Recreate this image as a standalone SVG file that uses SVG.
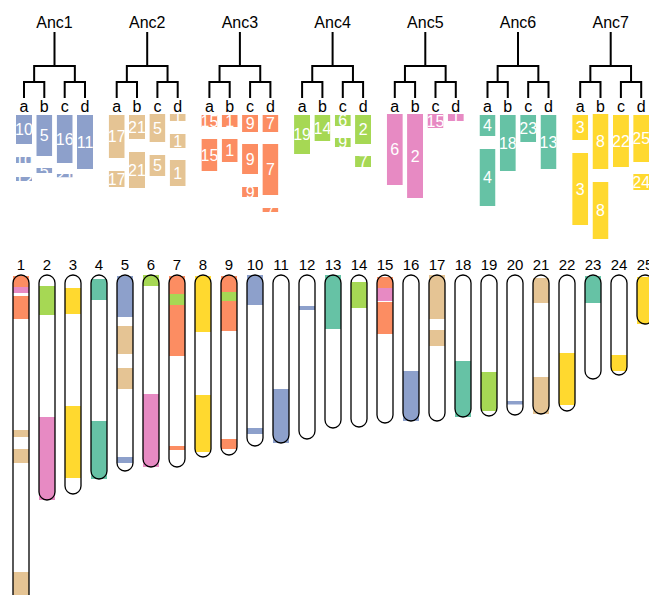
<svg xmlns="http://www.w3.org/2000/svg" width="649" height="595" viewBox="0 0 649 595">
<style>
text{font-family:"Liberation Sans",Arial,Helvetica,sans-serif;font-size:16px;fill:#000;text-anchor:middle}
.bt{fill:#fff;dominant-baseline:central}
.cn{font-size:15px}
.tree{fill:none;stroke:#000;stroke-width:2;stroke-linecap:square}
.chbg{fill:#fff}
.chol{fill:none;stroke:#000;stroke-width:1.3}
.bl{fill:#8da0cb}.tn{fill:#e5c494}.or{fill:#fc8d62}.gr{fill:#a6d854}.pk{fill:#e78ac3}.tl{fill:#66c2a5}.yl{fill:#ffd92f}
</style>
<defs>
<path id="tp" d="M54.5,33V66M34.15,66H74.85M34.15,66V82M74.85,66V82M24,82H44.3M64.7,82H85M24,82V97M44.3,82V97M64.7,82V97M85,82V97"/>
</defs>
<rect width="649" height="595" fill="#fff"/>
<g id="connectors" class="tree">
<use href="#tp"/>
<use href="#tp" transform="translate(92.7,0)"/>
<use href="#tp" transform="translate(185.4,0)"/>
<use href="#tp" transform="translate(278.1,0)"/>
<use href="#tp" transform="translate(370.8,0)"/>
<use href="#tp" transform="translate(463.5,0)"/>
<use href="#tp" transform="translate(556.2,0)"/>
</g>
<g id="Anc1">
<text x="54.5" y="28">Anc1</text>
<text x="24" y="112">a</text><text x="44.3" y="112">b</text><text x="64.7" y="112">c</text><text x="85" y="112">d</text>
<svg x="16" y="115" width="16" height="29"><rect class="bl" width="100%" height="100%"/><text class="bt" x="50%" y="50%">10</text></svg>
<svg x="16" y="157" width="16" height="6"><rect class="bl" width="100%" height="100%"/><text class="bt" x="50%" y="50%">10</text></svg>
<svg x="16" y="177" width="16" height="4"><rect class="bl" width="100%" height="100%"/><text class="bt" x="50%" y="50%">12</text></svg>
<svg x="36.3" y="115" width="16" height="41"><rect class="bl" width="100%" height="100%"/><text class="bt" x="50%" y="50%">5</text></svg>
<svg x="36.3" y="168" width="16" height="5"><rect class="bl" width="100%" height="100%"/><text class="bt" x="50%" y="50%">5</text></svg>
<svg x="56.7" y="115" width="16" height="48"><rect class="bl" width="100%" height="100%"/><text class="bt" x="50%" y="50%">16</text></svg>
<svg x="56.7" y="174" width="16" height="3.5"><rect class="bl" width="100%" height="100%"/><text class="bt" x="50%" y="50%">21</text></svg>
<svg x="77" y="115" width="16" height="54"><rect class="bl" width="100%" height="100%"/><text class="bt" x="50%" y="50%">11</text></svg>
</g>
<g id="Anc2" transform="translate(92.7,0)">
<text x="54.5" y="28">Anc2</text>
<text x="24" y="112">a</text><text x="44.3" y="112">b</text><text x="64.7" y="112">c</text><text x="85" y="112">d</text>
<svg x="16" y="115" width="16" height="43"><rect class="tn" width="100%" height="100%"/><text class="bt" x="50%" y="50%">17</text></svg>
<svg x="16" y="171" width="16" height="16"><rect class="tn" width="100%" height="100%"/><text class="bt" x="50%" y="50%">17</text></svg>
<svg x="36.3" y="115" width="16" height="24"><rect class="tn" width="100%" height="100%"/><text class="bt" x="50%" y="50%">21</text></svg>
<svg x="36.3" y="152" width="16" height="36"><rect class="tn" width="100%" height="100%"/><text class="bt" x="50%" y="50%">21</text></svg>
<svg x="56.7" y="114" width="16" height="28"><rect class="tn" width="100%" height="100%"/><text class="bt" x="50%" y="50%">5</text></svg>
<svg x="56.7" y="155" width="16" height="21"><rect class="tn" width="100%" height="100%"/><text class="bt" x="50%" y="50%">5</text></svg>
<svg x="77" y="114" width="16" height="7"><rect class="tn" width="100%" height="100%"/><text class="bt" x="50%" y="50%">1</text></svg>
<svg x="77" y="134" width="16" height="14"><rect class="tn" width="100%" height="100%"/><text class="bt" x="50%" y="50%">1</text></svg>
<svg x="77" y="160" width="16" height="26"><rect class="tn" width="100%" height="100%"/><text class="bt" x="50%" y="50%">1</text></svg>
</g>
<g id="Anc3" transform="translate(185.4,0)">
<text x="54.5" y="28">Anc3</text>
<text x="24" y="112">a</text><text x="44.3" y="112">b</text><text x="64.7" y="112">c</text><text x="85" y="112">d</text>
<svg x="16" y="115" width="16" height="12"><rect class="or" width="100%" height="100%"/><text class="bt" x="50%" y="50%">15</text></svg>
<svg x="16" y="139" width="16" height="32"><rect class="or" width="100%" height="100%"/><text class="bt" x="50%" y="50%">15</text></svg>
<svg x="36.3" y="115" width="16" height="12"><rect class="or" width="100%" height="100%"/><text class="bt" x="50%" y="50%">1</text></svg>
<svg x="36.3" y="139" width="16" height="23"><rect class="or" width="100%" height="100%"/><text class="bt" x="50%" y="50%">1</text></svg>
<svg x="56.7" y="115" width="16" height="17"><rect class="or" width="100%" height="100%"/><text class="bt" x="50%" y="50%">9</text></svg>
<svg x="56.7" y="144" width="16" height="30"><rect class="or" width="100%" height="100%"/><text class="bt" x="50%" y="50%">9</text></svg>
<svg x="56.7" y="187" width="16" height="10"><rect class="or" width="100%" height="100%"/><text class="bt" x="50%" y="50%">9</text></svg>
<svg x="77" y="115" width="16" height="17"><rect class="or" width="100%" height="100%"/><text class="bt" x="50%" y="50%">7</text></svg>
<svg x="77" y="144" width="16" height="51"><rect class="or" width="100%" height="100%"/><text class="bt" x="50%" y="50%">7</text></svg>
<svg x="77" y="208" width="16" height="4"><rect class="or" width="100%" height="100%"/><text class="bt" x="50%" y="50%">7</text></svg>
</g>
<g id="Anc4" transform="translate(278.1,0)">
<text x="54.5" y="28">Anc4</text>
<text x="24" y="112">a</text><text x="44.3" y="112">b</text><text x="64.7" y="112">c</text><text x="85" y="112">d</text>
<svg x="16" y="115" width="16" height="39"><rect class="gr" width="100%" height="100%"/><text class="bt" x="50%" y="50%">19</text></svg>
<svg x="36.3" y="115" width="16" height="26"><rect class="gr" width="100%" height="100%"/><text class="bt" x="50%" y="50%">14</text></svg>
<svg x="56.7" y="115" width="16" height="11"><rect class="gr" width="100%" height="100%"/><text class="bt" x="50%" y="50%">6</text></svg>
<svg x="56.7" y="138" width="16" height="9"><rect class="gr" width="100%" height="100%"/><text class="bt" x="50%" y="50%">9</text></svg>
<svg x="77" y="115" width="16" height="29"><rect class="gr" width="100%" height="100%"/><text class="bt" x="50%" y="50%">2</text></svg>
<svg x="77" y="156" width="16" height="11"><rect class="gr" width="100%" height="100%"/><text class="bt" x="50%" y="50%">7</text></svg>
</g>
<g id="Anc5" transform="translate(370.8,0)">
<text x="54.5" y="28">Anc5</text>
<text x="24" y="112">a</text><text x="44.3" y="112">b</text><text x="64.7" y="112">c</text><text x="85" y="112">d</text>
<svg x="16" y="114" width="16" height="71"><rect class="pk" width="100%" height="100%"/><text class="bt" x="50%" y="50%">6</text></svg>
<svg x="36.3" y="114" width="16" height="84"><rect class="pk" width="100%" height="100%"/><text class="bt" x="50%" y="50%">2</text></svg>
<svg x="56.7" y="114" width="16" height="14"><rect class="pk" width="100%" height="100%"/><text class="bt" x="50%" y="50%">15</text></svg>
<svg x="77" y="114" width="16" height="7"><rect class="pk" width="100%" height="100%"/><text class="bt" x="50%" y="50%">1</text></svg>
</g>
<g id="Anc6" transform="translate(463.5,0)">
<text x="54.5" y="28">Anc6</text>
<text x="24" y="112">a</text><text x="44.3" y="112">b</text><text x="64.7" y="112">c</text><text x="85" y="112">d</text>
<svg x="16" y="115" width="16" height="21"><rect class="tl" width="100%" height="100%"/><text class="bt" x="50%" y="50%">4</text></svg>
<svg x="16" y="149" width="16" height="57"><rect class="tl" width="100%" height="100%"/><text class="bt" x="50%" y="50%">4</text></svg>
<svg x="36.3" y="115" width="16" height="56"><rect class="tl" width="100%" height="100%"/><text class="bt" x="50%" y="50%">18</text></svg>
<svg x="56.7" y="115" width="16" height="27"><rect class="tl" width="100%" height="100%"/><text class="bt" x="50%" y="50%">23</text></svg>
<svg x="77" y="115" width="16" height="54"><rect class="tl" width="100%" height="100%"/><text class="bt" x="50%" y="50%">13</text></svg>
</g>
<g id="Anc7" transform="translate(556.2,0)">
<text x="54.5" y="28">Anc7</text>
<text x="24" y="112">a</text><text x="44.3" y="112">b</text><text x="64.7" y="112">c</text><text x="85" y="112">d</text>
<svg x="16" y="115" width="16" height="25"><rect class="yl" width="100%" height="100%"/><text class="bt" x="50%" y="50%">3</text></svg>
<svg x="16" y="153" width="16" height="72"><rect class="yl" width="100%" height="100%"/><text class="bt" x="50%" y="50%">3</text></svg>
<svg x="36.3" y="114" width="16" height="55"><rect class="yl" width="100%" height="100%"/><text class="bt" x="50%" y="50%">8</text></svg>
<svg x="36.3" y="182" width="16" height="57"><rect class="yl" width="100%" height="100%"/><text class="bt" x="50%" y="50%">8</text></svg>
<svg x="56.7" y="115" width="16" height="52"><rect class="yl" width="100%" height="100%"/><text class="bt" x="50%" y="50%">22</text></svg>
<svg x="77" y="115" width="16" height="47"><rect class="yl" width="100%" height="100%"/><text class="bt" x="50%" y="50%">25</text></svg>
<svg x="77" y="174" width="16" height="16"><rect class="yl" width="100%" height="100%"/><text class="bt" x="50%" y="50%">24</text></svg>
</g>
<g id="chr1" transform="translate(21,0)"><text class="cn" x="0" y="270">1</text><rect class="chbg" x="-8" y="275" width="16" height="335" rx="8"/>
<rect class="or" x="-8" y="276" width="16" height="11"/><rect class="pk" x="-8" y="287" width="16" height="6"/><rect class="or" x="-8" y="296" width="16" height="23"/><rect class="tn" x="-8" y="430" width="16" height="7"/><rect class="tn" x="-8" y="449" width="16" height="14"/><rect class="tn" x="-8" y="572" width="16" height="38"/>
<rect class="chol" x="-8" y="275" width="16" height="335" rx="8"/></g>
<g id="chr2" transform="translate(47,0)"><text class="cn" x="0" y="270">2</text><rect class="chbg" x="-8" y="275" width="16" height="225" rx="8"/>
<rect class="gr" x="-8" y="286" width="16" height="29"/><rect class="pk" x="-8" y="417" width="16" height="83"/>
<rect class="chol" x="-8" y="275" width="16" height="225" rx="8"/></g>
<g id="chr3" transform="translate(73,0)"><text class="cn" x="0" y="270">3</text><rect class="chbg" x="-8" y="275" width="16" height="219" rx="8"/>
<rect class="yl" x="-8" y="288" width="16" height="26"/><rect class="yl" x="-8" y="406" width="16" height="72"/>
<rect class="chol" x="-8" y="275" width="16" height="219" rx="8"/></g>
<g id="chr4" transform="translate(99,0)"><text class="cn" x="0" y="270">4</text><rect class="chbg" x="-8" y="275" width="16" height="204" rx="8"/>
<rect class="tl" x="-8" y="279" width="16" height="21"/><rect class="tl" x="-8" y="421" width="16" height="58"/>
<rect class="chol" x="-8" y="275" width="16" height="204" rx="8"/></g>
<g id="chr5" transform="translate(125,0)"><text class="cn" x="0" y="270">5</text><rect class="chbg" x="-8" y="275" width="16" height="196" rx="8"/>
<rect class="bl" x="-8" y="276" width="16" height="41"/><rect class="tn" x="-8" y="326" width="16" height="28"/><rect class="tn" x="-8" y="368" width="16" height="21"/><rect class="bl" x="-8" y="457" width="16" height="6"/>
<rect class="chol" x="-8" y="275" width="16" height="196" rx="8"/></g>
<g id="chr6" transform="translate(151,0)"><text class="cn" x="0" y="270">6</text><rect class="chbg" x="-8" y="275" width="16" height="192" rx="8"/>
<rect class="gr" x="-8" y="275" width="16" height="11"/><rect class="pk" x="-8" y="394" width="16" height="73"/>
<rect class="chol" x="-8" y="275" width="16" height="192" rx="8"/></g>
<g id="chr7" transform="translate(177,0)"><text class="cn" x="0" y="270">7</text><rect class="chbg" x="-8" y="275" width="16" height="192" rx="8"/>
<rect class="or" x="-8" y="276" width="16" height="18"/><rect class="gr" x="-8" y="294" width="16" height="11"/><rect class="or" x="-8" y="305" width="16" height="51"/><rect class="or" x="-8" y="446" width="16" height="4"/>
<rect class="chol" x="-8" y="275" width="16" height="192" rx="8"/></g>
<g id="chr8" transform="translate(203,0)"><text class="cn" x="0" y="270">8</text><rect class="chbg" x="-8" y="275" width="16" height="182" rx="8"/>
<rect class="yl" x="-8" y="276" width="16" height="56"/><rect class="yl" x="-8" y="395" width="16" height="57"/>
<rect class="chol" x="-8" y="275" width="16" height="182" rx="8"/></g>
<g id="chr9" transform="translate(229,0)"><text class="cn" x="0" y="270">9</text><rect class="chbg" x="-8" y="275" width="16" height="180" rx="8"/>
<rect class="or" x="-8" y="276" width="16" height="16"/><rect class="gr" x="-8" y="292" width="16" height="9"/><rect class="or" x="-8" y="301" width="16" height="30"/><rect class="or" x="-8" y="439" width="16" height="10"/>
<rect class="chol" x="-8" y="275" width="16" height="180" rx="8"/></g>
<g id="chr10" transform="translate(255,0)"><text class="cn" x="0" y="270">10</text><rect class="chbg" x="-8" y="275" width="16" height="171" rx="8"/>
<rect class="bl" x="-8" y="275" width="16" height="30"/><rect class="bl" x="-8" y="428" width="16" height="6"/>
<rect class="chol" x="-8" y="275" width="16" height="171" rx="8"/></g>
<g id="chr11" transform="translate(281,0)"><text class="cn" x="0" y="270">11</text><rect class="chbg" x="-8" y="275" width="16" height="168" rx="8"/>
<rect class="bl" x="-8" y="389" width="16" height="54"/>
<rect class="chol" x="-8" y="275" width="16" height="168" rx="8"/></g>
<g id="chr12" transform="translate(307,0)"><text class="cn" x="0" y="270">12</text><rect class="chbg" x="-8" y="275" width="16" height="164" rx="8"/>
<rect class="bl" x="-8" y="306" width="16" height="4"/>
<rect class="chol" x="-8" y="275" width="16" height="164" rx="8"/></g>
<g id="chr13" transform="translate(333,0)"><text class="cn" x="0" y="270">13</text><rect class="chbg" x="-8" y="275" width="16" height="153" rx="8"/>
<rect class="tl" x="-8" y="275" width="16" height="54"/>
<rect class="chol" x="-8" y="275" width="16" height="153" rx="8"/></g>
<g id="chr14" transform="translate(359,0)"><text class="cn" x="0" y="270">14</text><rect class="chbg" x="-8" y="275" width="16" height="152" rx="8"/>
<rect class="gr" x="-8" y="282" width="16" height="26"/>
<rect class="chol" x="-8" y="275" width="16" height="152" rx="8"/></g>
<g id="chr15" transform="translate(385,0)"><text class="cn" x="0" y="270">15</text><rect class="chbg" x="-8" y="275" width="16" height="148" rx="8"/>
<rect class="or" x="-8" y="277" width="16" height="11"/><rect class="pk" x="-8" y="288" width="16" height="13"/><rect class="or" x="-8" y="302" width="16" height="32"/>
<rect class="chol" x="-8" y="275" width="16" height="148" rx="8"/></g>
<g id="chr16" transform="translate(411,0)"><text class="cn" x="0" y="270">16</text><rect class="chbg" x="-8" y="275" width="16" height="146" rx="8"/>
<rect class="bl" x="-8" y="371" width="16" height="50"/>
<rect class="chol" x="-8" y="275" width="16" height="146" rx="8"/></g>
<g id="chr17" transform="translate(437,0)"><text class="cn" x="0" y="270">17</text><rect class="chbg" x="-8" y="275" width="16" height="146" rx="8"/>
<rect class="tn" x="-8" y="275" width="16" height="44"/><rect class="tn" x="-8" y="330" width="16" height="16"/>
<rect class="chol" x="-8" y="275" width="16" height="146" rx="8"/></g>
<g id="chr18" transform="translate(463,0)"><text class="cn" x="0" y="270">18</text><rect class="chbg" x="-8" y="275" width="16" height="142" rx="8"/>
<rect class="tl" x="-8" y="361" width="16" height="56"/>
<rect class="chol" x="-8" y="275" width="16" height="142" rx="8"/></g>
<g id="chr19" transform="translate(489,0)"><text class="cn" x="0" y="270">19</text><rect class="chbg" x="-8" y="275" width="16" height="141" rx="8"/>
<rect class="gr" x="-8" y="372" width="16" height="39"/>
<rect class="chol" x="-8" y="275" width="16" height="141" rx="8"/></g>
<g id="chr20" transform="translate(515,0)"><text class="cn" x="0" y="270">20</text><rect class="chbg" x="-8" y="275" width="16" height="140" rx="8"/>
<rect class="bl" x="-8" y="401" width="16" height="3.5"/>
<rect class="chol" x="-8" y="275" width="16" height="140" rx="8"/></g>
<g id="chr21" transform="translate(541,0)"><text class="cn" x="0" y="270">21</text><rect class="chbg" x="-8" y="275" width="16" height="139" rx="8"/>
<rect class="tn" x="-8" y="278" width="16" height="25"/><rect class="tn" x="-8" y="377" width="16" height="37"/>
<rect class="chol" x="-8" y="275" width="16" height="139" rx="8"/></g>
<g id="chr22" transform="translate(567,0)"><text class="cn" x="0" y="270">22</text><rect class="chbg" x="-8" y="275" width="16" height="136" rx="8"/>
<rect class="yl" x="-8" y="353" width="16" height="52"/>
<rect class="chol" x="-8" y="275" width="16" height="136" rx="8"/></g>
<g id="chr23" transform="translate(593,0)"><text class="cn" x="0" y="270">23</text><rect class="chbg" x="-8" y="275" width="16" height="104" rx="8"/>
<rect class="tl" x="-8" y="276" width="16" height="27"/>
<rect class="chol" x="-8" y="275" width="16" height="104" rx="8"/></g>
<g id="chr24" transform="translate(619,0)"><text class="cn" x="0" y="270">24</text><rect class="chbg" x="-8" y="275" width="16" height="100" rx="8"/>
<rect class="yl" x="-8" y="355" width="16" height="16"/>
<rect class="chol" x="-8" y="275" width="16" height="100" rx="8"/></g>
<g id="chr25" transform="translate(645,0)"><text class="cn" x="0" y="270">25</text><rect class="chbg" x="-8" y="275" width="16" height="49" rx="8"/>
<rect class="yl" x="-8" y="277" width="16" height="47"/>
<rect class="chol" x="-8" y="275" width="16" height="49" rx="8"/></g>
</svg>
